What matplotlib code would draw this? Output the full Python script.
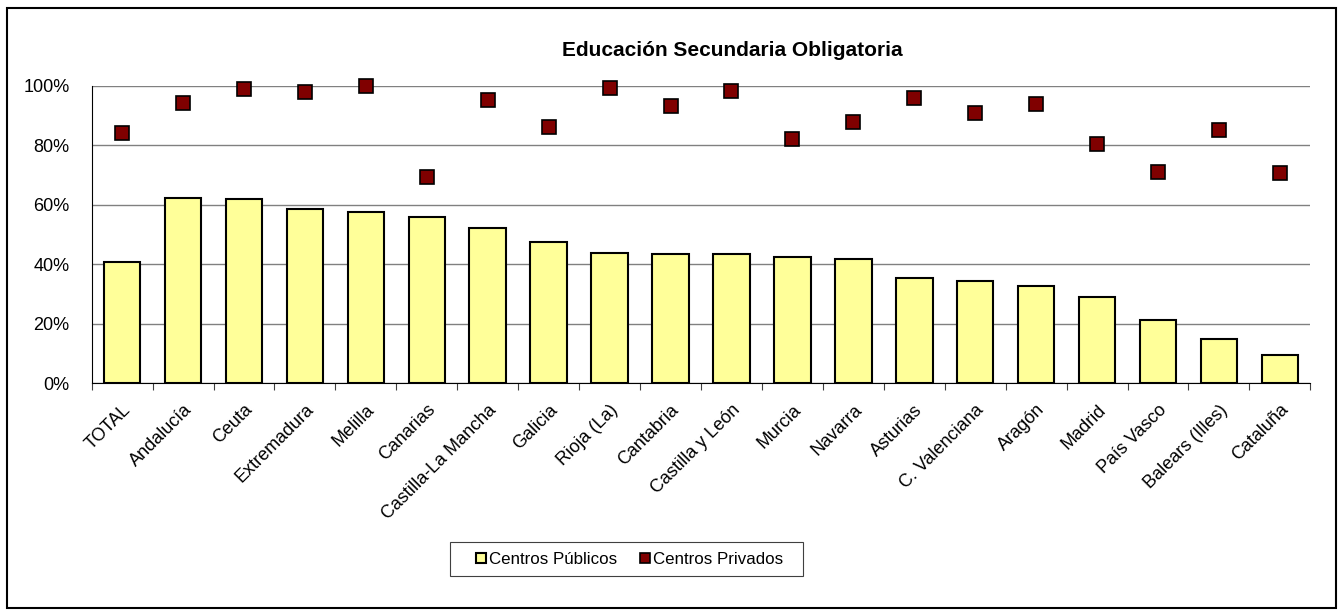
import matplotlib
matplotlib.use("Agg")
import matplotlib.pyplot as plt
from matplotlib.patches import Rectangle
from matplotlib.ticker import PercentFormatter

plt.rcParams['font.family'] = ['Liberation Sans', 'DejaVu Sans']

regiones = ["TOTAL", "Andalucía", "Ceuta", "Extremadura", "Melilla", "Canarias",
            "Castilla-La Mancha", "Galicia", "Rioja (La)", "Cantabria", "Castilla y León",
            "Murcia", "Navarra", "Asturias", "C. Valenciana", "Aragón", "Madrid",
            "País Vasco", "Balears (Illes)", "Cataluña"]
publicos = [40.8, 62.2, 61.8, 58.7, 57.6, 55.8, 52.3, 47.4, 43.7, 43.6, 43.6,
            42.4, 41.9, 35.3, 34.5, 32.7, 29.0, 21.2, 14.8, 9.5]
privados = [84.0, 94.2, 99.0, 98.0, 99.9, 69.2, 95.2, 86.2, 99.3, 93.1, 98.2,
            82.0, 87.8, 96.0, 90.8, 94.0, 80.5, 71.1, 85.0, 70.8]

fig = plt.figure(figsize=(13.39, 6.16), dpi=100)
ax = fig.add_axes([91.7/1339, 1 - 383.3/616, (1310.3 - 91.7)/1339, (383.3 - 85.7)/616])

x = list(range(len(regiones)))
ax.bar(x, publicos, width=0.6, color='#FFFF99', edgecolor='black', linewidth=1.5,
       label='Centros Públicos', zorder=2)
ax.plot(x, privados, linestyle='none', marker='s', markersize=10,
        markerfacecolor='#800000', markeredgecolor='black', markeredgewidth=1.2,
        label='Centros Privados', zorder=3, clip_on=False)

ax.set_xlim(-0.5, len(regiones) - 0.5)
ax.set_ylim(0, 100)
ax.set_yticks([0, 20, 40, 60, 80, 100])
ax.yaxis.set_major_formatter(PercentFormatter(decimals=0))
ax.grid(axis='y', color='#808080', linewidth=1.0, zorder=0)
ax.set_axisbelow(True)
for s in ['top', 'right']:
    ax.spines[s].set_visible(False)
ax.spines['left'].set_linewidth(0.8)
ax.spines['bottom'].set_linewidth(0.8)
ax.tick_params(axis='y', length=0, labelsize=13, pad=16)

# marcas entre categorias, etiquetas en el centro
ax.set_xticks([i - 0.5 for i in range(len(regiones) + 1)], minor=False)
ax.set_xticklabels([])
ax.tick_params(axis='x', which='major', direction='out', length=5, width=0.8, color='#404040')
ax.set_xticks(x, minor=True)
ax.set_xticklabels(regiones, minor=True, rotation=45, ha='right', va='top',
                   rotation_mode='anchor', fontsize=13)
ax.tick_params(axis='x', which='minor', length=0, pad=13)

fig.text(732 / 1339, 1 - 50 / 616, "Educación Secundaria Obligatoria", ha='center',
         va='center', fontsize=15, fontweight='bold')

leg_barras = plt.Line2D([], [], linestyle='none', marker='s', markersize=7,
                        markerfacecolor='#FFFF99', markeredgecolor='black', markeredgewidth=1.5)
leg_puntos = plt.Line2D([], [], linestyle='none', marker='s', markersize=7,
                        markerfacecolor='#800000', markeredgecolor='black', markeredgewidth=1.2)
fig.legend([leg_barras, leg_puntos], ['Centros Públicos', 'Centros Privados'],
           loc='center', bbox_to_anchor=(629 / 1339, 1 - 559 / 616), ncol=2,
           fontsize=12.2, frameon=False, handlelength=0.7, columnspacing=1.3,
           borderpad=0, handletextpad=0.1, borderaxespad=0)
fig.patches.append(Rectangle((450 / 1339, 1 - 576 / 616), 353 / 1339, 34 / 616,
                             transform=fig.transFigure, fill=False,
                             edgecolor='#404040', linewidth=0.8))

fig.patches.append(Rectangle((7 / 1339, 8 / 616), 1329 / 1339, 600 / 616,
                             transform=fig.transFigure, fill=False,
                             edgecolor='black', linewidth=1.5))

fig.savefig("out.png", dpi=100)
